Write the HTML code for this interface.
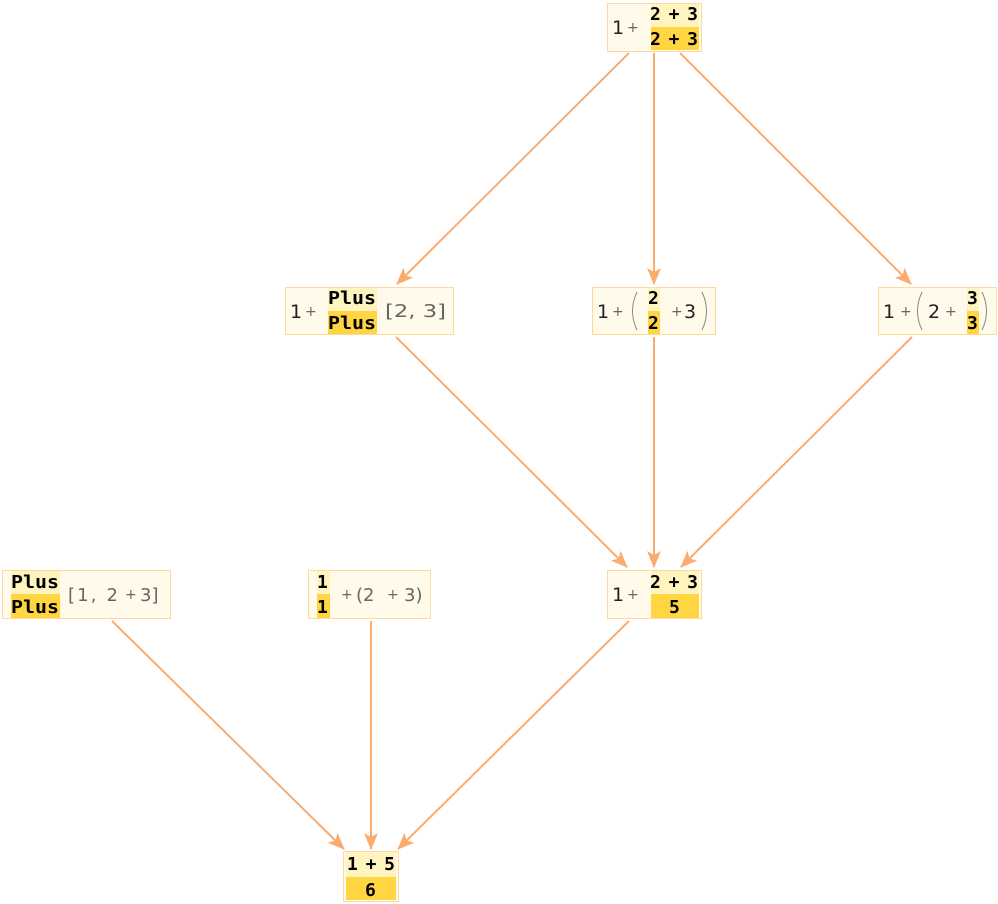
<!DOCTYPE html>
<html><head><meta charset="utf-8"><style>
html,body{margin:0;padding:0;background:#fff;width:998px;height:904px;overflow:hidden}
.b{font-family:"DejaVu Sans Mono","Liberation Mono",monospace;font-weight:bold;font-size:18px;fill:#000}
.r{font-family:"DejaVu Sans","Liberation Sans",sans-serif;font-size:19px;fill:#222}
.s{font-family:"DejaVu Sans","Liberation Sans",sans-serif;font-size:14px;fill:#666}
.p{font-family:"DejaVu Sans","Liberation Sans",sans-serif;font-size:18px;fill:#666}
.par{stroke:#888;stroke-width:1;fill:none}
</style></head><body>
<svg width="998" height="904" viewBox="0 0 998 904" xmlns="http://www.w3.org/2000/svg">
<defs>
<marker id="a" markerWidth="18" markerHeight="14" refX="16" refY="7" orient="auto" markerUnits="userSpaceOnUse">
<path d="M0,0 L17,7 L0,14 L4,7 Z" fill="#fbab6e"/>
</marker>
</defs>
<g stroke="#fbab6e" stroke-width="2" fill="none" marker-end="url(#a)">
<line x1="629" y1="53" x2="397" y2="284"/>
<line x1="654" y1="53" x2="654" y2="284"/>
<line x1="680" y1="53" x2="911" y2="284"/>
<line x1="396" y1="337" x2="627" y2="567"/>
<line x1="654" y1="337" x2="654" y2="567"/>
<line x1="912" y1="337" x2="681" y2="567"/>
<line x1="112" y1="621" x2="344" y2="849"/>
<line x1="371" y1="621" x2="371" y2="849"/>
<line x1="629" y1="621" x2="398" y2="849"/>
</g>
<g stroke="#ffd99a" stroke-width="1" fill="#fffaea">
<rect x="607.5" y="3.5" width="94" height="48"/>
<rect x="285.5" y="287.5" width="168" height="47"/>
<rect x="592.5" y="287.5" width="123" height="47"/>
<rect x="878.5" y="287.5" width="118" height="47"/>
<rect x="2.5" y="570.5" width="168" height="48"/>
<rect x="308.5" y="570.5" width="122" height="48"/>
<rect x="607.5" y="570.5" width="94" height="48"/>
<rect x="343.5" y="851.5" width="55" height="50"/>
</g>
<g>
<rect x="651" y="4" width="48" height="23" fill="#fff3c0"/><rect x="651" y="27" width="48" height="23" fill="#ffd641"/>
<rect x="328" y="288" width="49" height="23" fill="#fff3c0"/><rect x="328" y="311" width="49" height="23" fill="#ffd641"/>
<rect x="648" y="288" width="12" height="23" fill="#fff3c0"/><rect x="648" y="311" width="12" height="23" fill="#ffd641"/>
<rect x="967" y="288" width="12" height="23" fill="#fff3c0"/><rect x="967" y="311" width="12" height="23" fill="#ffd641"/>
<rect x="11" y="571" width="49" height="23" fill="#fff3c0"/><rect x="11" y="594" width="49" height="24" fill="#ffd641"/>
<rect x="317" y="571" width="13" height="23" fill="#fff3c0"/><rect x="317" y="594" width="13" height="24" fill="#ffd641"/>
<rect x="651" y="571" width="48" height="23" fill="#fff3c0"/><rect x="651" y="594" width="48" height="24" fill="#ffd641"/>
<rect x="346" y="852" width="50" height="25" fill="#fff3c0"/><rect x="346" y="877" width="50" height="23" fill="#ffd641"/>
</g>
<!-- top -->
<text x="612" y="34" class="r">1</text><text x="627" y="32" class="s">+</text>
<text x="650" y="20" class="b" textLength="48" lengthAdjust="spacing">2 + 3</text>
<text x="650" y="45" class="b" textLength="48" lengthAdjust="spacing">2 + 3</text>
<!-- Plus[2,3] -->
<text x="290" y="318" class="r">1</text><text x="305" y="316" class="s">+</text>
<text x="328" y="304" class="b" textLength="48" lengthAdjust="spacingAndGlyphs">Plus</text>
<text x="328" y="329" class="b" textLength="48" lengthAdjust="spacingAndGlyphs">Plus</text>
<text x="385" y="317" class="p" textLength="61" lengthAdjust="spacingAndGlyphs">[2, 3]</text>
<!-- 2 -->
<text x="597" y="318" class="r">1</text><text x="612" y="316" class="s">+</text>
<path class="par" d="M637,292 Q628,311 637,330"/>
<text x="648" y="304" class="b">2</text><text x="648" y="329" class="b">2</text>
<text x="671" y="316" class="s">+</text><text x="684" y="318" class="r">3</text>
<path class="par" d="M702,292 Q711,311 702,330"/>
<!-- 3 -->
<text x="883" y="318" class="r">1</text><text x="900" y="316" class="s">+</text>
<path class="par" d="M922,292 Q913,311 922,330"/>
<text x="928" y="318" class="r">2</text><text x="945" y="316" class="s">+</text>
<text x="967" y="304" class="b">3</text><text x="967" y="329" class="b">3</text>
<path class="par" d="M982,292 Q991,311 982,330"/>
<!-- Plus[1,2+3] -->
<text x="11" y="588" class="b" textLength="48" lengthAdjust="spacingAndGlyphs">Plus</text>
<text x="11" y="613" class="b" textLength="48" lengthAdjust="spacingAndGlyphs">Plus</text>
<text x="68" y="601" class="p" textLength="50" lengthAdjust="spacing">[1, 2</text><text x="125" y="599" class="s">+</text><text x="140" y="601" class="p">3]</text>
<!-- 1 -->
<text x="317" y="588" class="b">1</text><text x="317" y="613" class="b">1</text>
<text x="341" y="599" class="s">+</text><text x="356" y="601" class="p">(2</text><text x="387" y="599" class="s">+</text><text x="404" y="601" class="p">3)</text>
<!-- 5 -->
<text x="612" y="601" class="r">1</text><text x="627" y="599" class="s">+</text>
<text x="650" y="588" class="b" textLength="48" lengthAdjust="spacing">2 + 3</text>
<text x="669" y="613" class="b">5</text>
<!-- 6 -->
<text x="347" y="870" class="b" textLength="48" lengthAdjust="spacing">1 + 5</text>
<text x="365" y="896" class="b">6</text>
</svg>
</body></html>
